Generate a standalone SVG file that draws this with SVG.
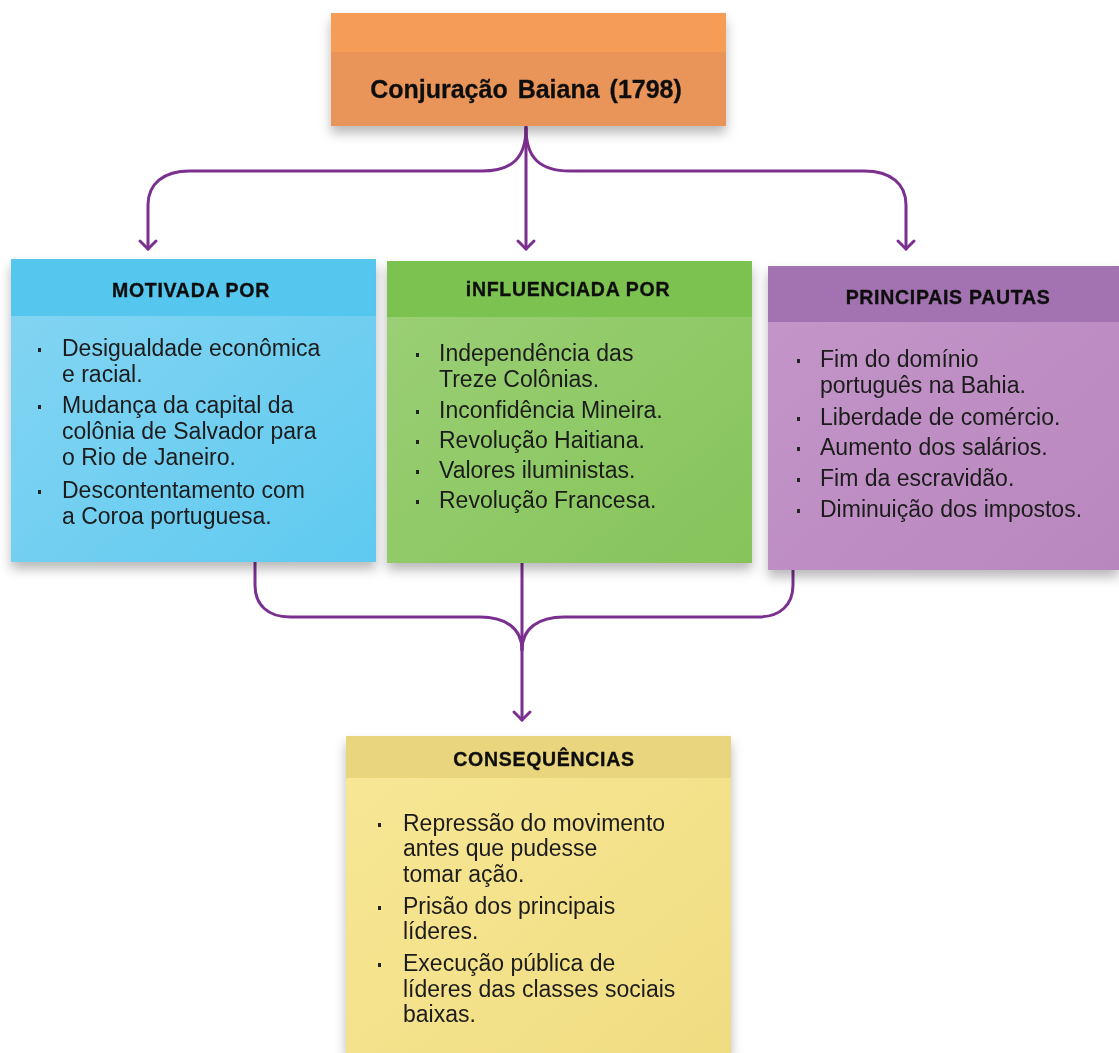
<svg xmlns="http://www.w3.org/2000/svg" width="1119" height="1053" viewBox="0 0 1119 1053">
<style>
.hd{font-family:"Liberation Sans",Arial,sans-serif;font-weight:bold;font-size:19.5px;letter-spacing:0.7px;fill:#111;stroke:#111;stroke-width:0.35;text-anchor:middle}
.tx{font-family:"Liberation Sans",Arial,sans-serif;font-size:23px;fill:#1b1b1b}
.bl{fill:#222}
.cn{fill:none;stroke:#7B2F8F;stroke-width:3;stroke-linecap:round;stroke-linejoin:round}
</style>
<defs>
<filter id="sh" x="-10%" y="-10%" width="120%" height="130%">
<feDropShadow dx="0" dy="7" stdDeviation="6" flood-color="#000" flood-opacity="0.28"/>
</filter>
<linearGradient id="gB" x1="0" y1="0" x2="1" y2="1"><stop offset="0" stop-color="#86D5F2"/><stop offset="1" stop-color="#5FCAF0"/></linearGradient>
<linearGradient id="gG" x1="0" y1="0" x2="1" y2="1"><stop offset="0" stop-color="#9CD077"/><stop offset="1" stop-color="#86C45A"/></linearGradient>
<linearGradient id="gP" x1="0" y1="0" x2="1" y2="1"><stop offset="0" stop-color="#C496C9"/><stop offset="1" stop-color="#B887BE"/></linearGradient>
<linearGradient id="gY" x1="0" y1="0" x2="1" y2="1"><stop offset="0" stop-color="#F8E796"/><stop offset="1" stop-color="#F0DD82"/></linearGradient>
</defs>
<rect width="1119" height="1053" fill="#fff"/>

<g id="connectors">
<path class="cn" d="M526,126 V249"/>
<path d="M518,241 L526,249 L534,241" class="cn"/>
<path class="cn" d="M526,128 C526,158 512,171 482,171 H190 C163,171 148,184 148,205 V249"/>
<path d="M140,241 L148,249 L156,241" class="cn"/>
<path class="cn" d="M526,128 C526,158 540,171 570,171 H864 C891,171 906,184 906,205 V249"/>
<path d="M898,241 L906,249 L914,241" class="cn"/>
<path class="cn" d="M255,562 V585 C255,605 268,617 290,617 H480 C505,617 522,628 522,650"/>
<path class="cn" d="M793,570 V585 C793,605 780,617 758,617 H564 C539,617 522,628 522,650"/>
<path class="cn" d="M522,563 V720"/>
<path d="M514,712 L522,720 L530,712" class="cn"/>
</g>

<g id="title" filter="url(#sh)">
<rect x="331" y="13" width="395" height="113" fill="#E9955A"/>
<rect x="331" y="13" width="395" height="39" fill="#F59D57"/>
<text x="526" y="98" font-family="'Liberation Sans',Arial,sans-serif" font-weight="bold" font-size="25" word-spacing="3" fill="#111" stroke="#111" stroke-width="0.3" text-anchor="middle">Conjuração Baiana (1798)</text>
</g>

<g id="motivada" filter="url(#sh)">
<rect x="11" y="259" width="365" height="303" fill="url(#gB)"/>
<rect x="11" y="259" width="365" height="57" fill="#55C6EE"/>
<text class="hd" x="191" y="297">MOTIVADA POR</text>
<rect class="bl" x="38" y="348" width="3" height="4"/>
<text class="tx" x="62" y="356">Desigualdade econômica</text>
<text class="tx" x="62" y="382">e racial.</text>
<rect class="bl" x="38" y="405" width="3" height="4"/>
<text class="tx" x="62" y="413">Mudança da capital da</text>
<text class="tx" x="62" y="439">colônia de Salvador para</text>
<text class="tx" x="62" y="465">o Rio de Janeiro.</text>
<rect class="bl" x="38" y="490" width="3" height="4"/>
<text class="tx" x="62" y="498">Descontentamento com</text>
<text class="tx" x="62" y="524">a Coroa portuguesa.</text>
</g>

<g id="influenciada" filter="url(#sh)">
<rect x="387" y="261" width="365" height="302" fill="url(#gG)"/>
<rect x="387" y="261" width="365" height="56" fill="#7CC251"/>
<text class="hd" x="568" y="296">iNFLUENCIADA POR</text>
<rect class="bl" x="416" y="353" width="3" height="4"/>
<text class="tx" x="439" y="361">Independência das</text>
<text class="tx" x="439" y="387">Treze Colônias.</text>
<rect class="bl" x="416" y="410" width="3" height="4"/>
<text class="tx" x="439" y="418">Inconfidência Mineira.</text>
<rect class="bl" x="416" y="440" width="3" height="4"/>
<text class="tx" x="439" y="448">Revolução Haitiana.</text>
<rect class="bl" x="416" y="470" width="3" height="4"/>
<text class="tx" x="439" y="478">Valores iluministas.</text>
<rect class="bl" x="416" y="500" width="3" height="4"/>
<text class="tx" x="439" y="508">Revolução Francesa.</text>
</g>

<g id="pautas" filter="url(#sh)">
<rect x="768" y="266" width="351" height="304" fill="url(#gP)"/>
<rect x="768" y="266" width="351" height="56" fill="#A273B0"/>
<text class="hd" x="948" y="304">PRINCIPAIS PAUTAS</text>
<rect class="bl" x="797" y="359" width="3" height="4"/>
<text class="tx" x="820" y="367">Fim do domínio</text>
<text class="tx" x="820" y="393">português na Bahia.</text>
<rect class="bl" x="797" y="417" width="3" height="4"/>
<text class="tx" x="820" y="425">Liberdade de comércio.</text>
<rect class="bl" x="797" y="447" width="3" height="4"/>
<text class="tx" x="820" y="455">Aumento dos salários.</text>
<rect class="bl" x="797" y="478" width="3" height="4"/>
<text class="tx" x="820" y="486">Fim da escravidão.</text>
<rect class="bl" x="797" y="509" width="3" height="4"/>
<text class="tx" x="820" y="517">Diminuição dos impostos.</text>
</g>

<g id="consequencias" filter="url(#sh)">
<rect x="346" y="736" width="385" height="317" fill="url(#gY)"/>
<rect x="346" y="736" width="385" height="42" fill="#E9D57D"/>
<text class="hd" x="544" y="766">CONSEQUÊNCIAS</text>
<rect class="bl" x="378" y="823" width="3" height="4"/>
<text class="tx" x="403" y="831">Repressão do movimento</text>
<text class="tx" x="403" y="856">antes que pudesse</text>
<text class="tx" x="403" y="882">tomar ação.</text>
<rect class="bl" x="378" y="906" width="3" height="4"/>
<text class="tx" x="403" y="914">Prisão dos principais</text>
<text class="tx" x="403" y="939">líderes.</text>
<rect class="bl" x="378" y="963" width="3" height="4"/>
<text class="tx" x="403" y="971">Execução pública de</text>
<text class="tx" x="403" y="997">líderes das classes sociais</text>
<text class="tx" x="403" y="1022">baixas.</text>
</g>
</svg>
